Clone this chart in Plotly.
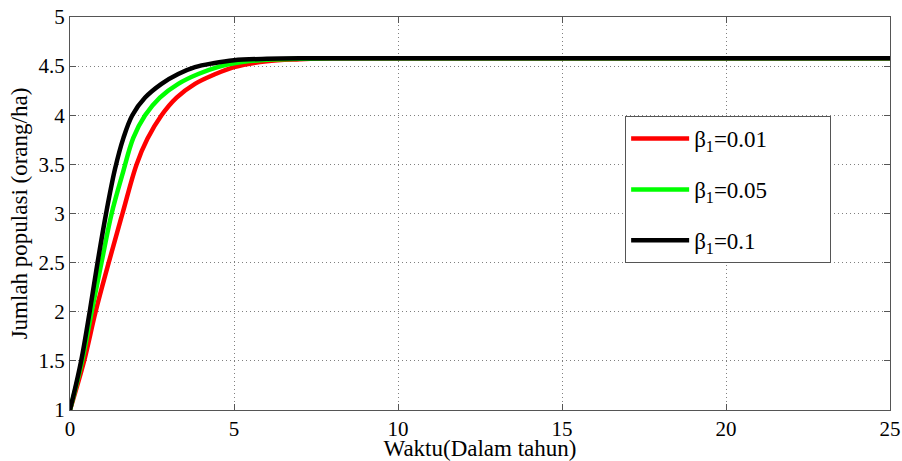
import plotly.graph_objects as go

# Data
t_red = [0, 0.43, 0.78, 1.18, 1.60, 2.03, 2.36, 2.79, 3.25, 3.81, 4.37, 5, 6, 7, 8, 10, 25]
y_red = [1, 1.5, 2, 2.5, 3, 3.5, 3.76, 4.0, 4.18, 4.32, 4.41, 4.49, 4.55, 4.57, 4.58, 4.58, 4.58]

t_green = [0, 0.37, 0.66, 0.96, 1.27, 1.60, 1.93, 2.29, 2.74, 3.30, 3.91, 4.5, 5, 6, 7, 8, 25]
y_green = [1, 1.5, 2, 2.5, 3, 3.4, 3.77, 4.0, 4.18, 4.32, 4.42, 4.49, 4.53, 4.565, 4.575, 4.58, 4.58]

t_black = [0, 0.34, 0.60, 0.84, 1.10, 1.37, 1.63, 1.90, 2.29, 2.79, 3.30, 3.81, 4.37, 5, 6, 7, 8, 25]
y_black = [1, 1.5, 2, 2.5, 3, 3.45, 3.77, 4.0, 4.18, 4.32, 4.42, 4.49, 4.53, 4.56, 4.575, 4.58, 4.58, 4.58]

names = ["β<sub>1</sub>=0.01", "β<sub>1</sub>=0.05", "β<sub>1</sub>=0.1"]
colors = ["#FF0000", "#00FF00", "#000000"]

x_ticks = [0, 5, 10, 15, 20, 25]
y_ticks = [1, 1.5, 2, 2.5, 3, 3.5, 4, 4.5, 5]
y_tick_text = ["1", "1.5", "2", "2.5", "3", "3.5", "4", "4.5", "5"]

FONT = "Liberation Serif, Times New Roman, serif"
PAD = "\u00a0" * 10  # invisible padding to widen the legend box

fig = go.Figure()
for i, (tx, ty) in enumerate([(t_red, y_red), (t_green, y_green), (t_black, y_black)]):
    fig.add_trace(go.Scatter(
        x=tx, y=ty, mode="lines", name=names[i] + PAD,
        line=dict(color=colors[i], width=4.5, shape="spline", smoothing=1.0),
        legendgroup=str(i),
    ))

fig.update_layout(
    width=902, height=461,
    margin=dict(l=70, r=12, t=17, b=51),
    paper_bgcolor="white", plot_bgcolor="white",
    font=dict(family=FONT, size=21, color="black"),
    showlegend=True,
    legend=dict(
        x=0.677, y=0.748, xanchor="left", yanchor="top",
        bordercolor="#555555", borderwidth=1, bgcolor="white",
        font=dict(family=FONT, size=23),
        itemwidth=58, tracegroupgap=18,
        traceorder="grouped",
    ),
    xaxis=dict(
        range=[0, 25], tickvals=x_ticks, ticktext=[str(v) for v in x_ticks],
        showgrid=True, gridcolor="#808080", griddash="1px,3px", gridwidth=1,
        showline=True, linecolor="#555555", linewidth=1, mirror="ticks",
        ticks="inside", ticklen=6, tickcolor="#555555",
        zeroline=False, automargin=False,
        tickfont=dict(family=FONT, size=21),
        title=dict(text="Waktu(Dalam tahun)", font=dict(family=FONT, size=23), standoff=0),
    ),
    yaxis=dict(
        range=[1, 5], tickvals=y_ticks, ticktext=y_tick_text,
        showgrid=True, gridcolor="#808080", griddash="1px,3px", gridwidth=1,
        showline=True, linecolor="#555555", linewidth=1, mirror="ticks",
        ticks="inside", ticklen=6, tickcolor="#555555",
        zeroline=False, automargin=False,
        tickfont=dict(family=FONT, size=21),
        title=dict(text="Jumlah populasi (orang/ha)", font=dict(family=FONT, size=23), standoff=4),
    ),
)

fig.write_html("out.html", config={"displayModeBar": False},
               post_script="document.body.style.margin='0px';")
